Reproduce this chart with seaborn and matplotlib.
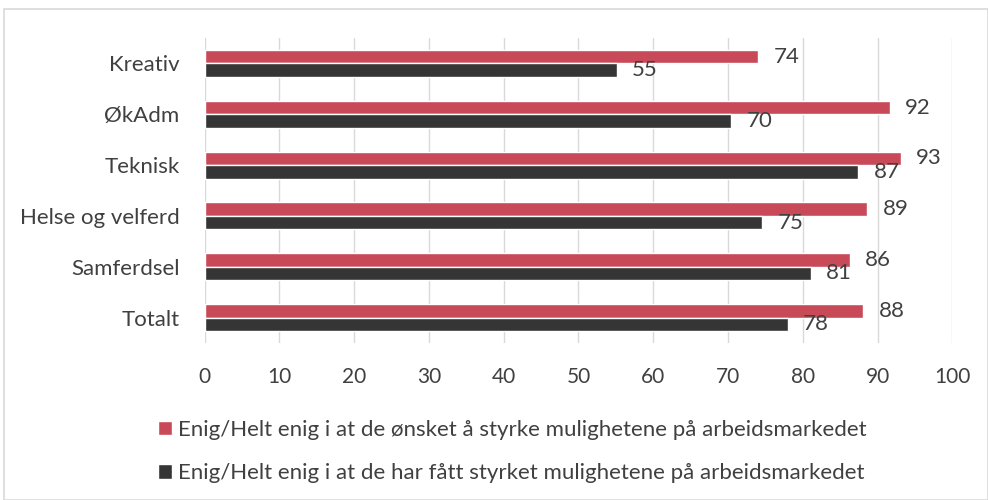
import pandas as pd
import matplotlib.pyplot as plt
import seaborn as sns
from matplotlib.patches import Rectangle

# data
categories = ["Kreativ", "ØkAdm", "Teknisk", "Helse og velferd", "Samferdsel", "Totalt"]
onsket = [74.0, 91.6, 93.1, 88.6, 86.3, 88.1]
fatt = [55.1, 70.4, 87.4, 74.6, 81.1, 78.0]
series_names = [
    "Enig/Helt enig i at de ønsket å styrke mulighetene på arbeidsmarkedet",
    "Enig/Helt enig i at de har fått styrket mulighetene på arbeidsmarkedet",
]
x_ticks = [0, 10, 20, 30, 40, 50, 60, 70, 80, 90, 100]

df = pd.DataFrame({
    "kategori": categories * 2,
    "verdi": onsket + fatt,
    "serie": [series_names[0]] * len(categories) + [series_names[1]] * len(categories),
})

sns.set_style("white")
plt.rcParams["font.family"] = ["Lato", "DejaVu Sans"]
text_col = "#404040"
colors = ["#C84A59", "#353535"]

fig = plt.figure(figsize=(9.88, 5.0), dpi=100)
ax = fig.add_axes([0.207, 0.314, 0.757, 0.61])

sns.barplot(
    data=df, x="verdi", y="kategori", hue="serie",
    order=categories, hue_order=series_names,
    palette=colors, width=0.53, orient="h", ax=ax,
    saturation=1, legend=True,
)

for cont in ax.containers:
    ax.bar_label(cont, fmt="{:.0f}", padding=11, fontsize=16, color=text_col)

ax.set_xlim(0, 100)
ax.set_xticks(x_ticks)
ax.set_xlabel("")
ax.set_ylabel("")
ax.grid(axis="x", color="#D9D9D9", linewidth=1)
ax.set_axisbelow(True)
for s in ax.spines.values():
    s.set_visible(False)
ax.tick_params(axis="x", length=0, pad=17, labelsize=15, labelcolor=text_col)
ax.tick_params(axis="y", length=0, pad=18, labelsize=16, labelcolor=text_col)

handles, labels = ax.get_legend_handles_labels()
ax.get_legend().remove()
fig.legend(
    handles, labels, loc="upper left", bbox_to_anchor=(0.14, 0.2),
    ncol=1, frameon=False, fontsize=16, labelcolor=text_col,
    handlelength=0.6, handleheight=0.6, handletextpad=0.3, labelspacing=1.05,
)

# light border round the chart area
fig.patches.append(Rectangle((0.004, 0.0), 0.996, 0.982, transform=fig.transFigure,
                             fill=False, edgecolor="#D9D9D9", linewidth=1.2))

fig.savefig("out.png", dpi=100)
